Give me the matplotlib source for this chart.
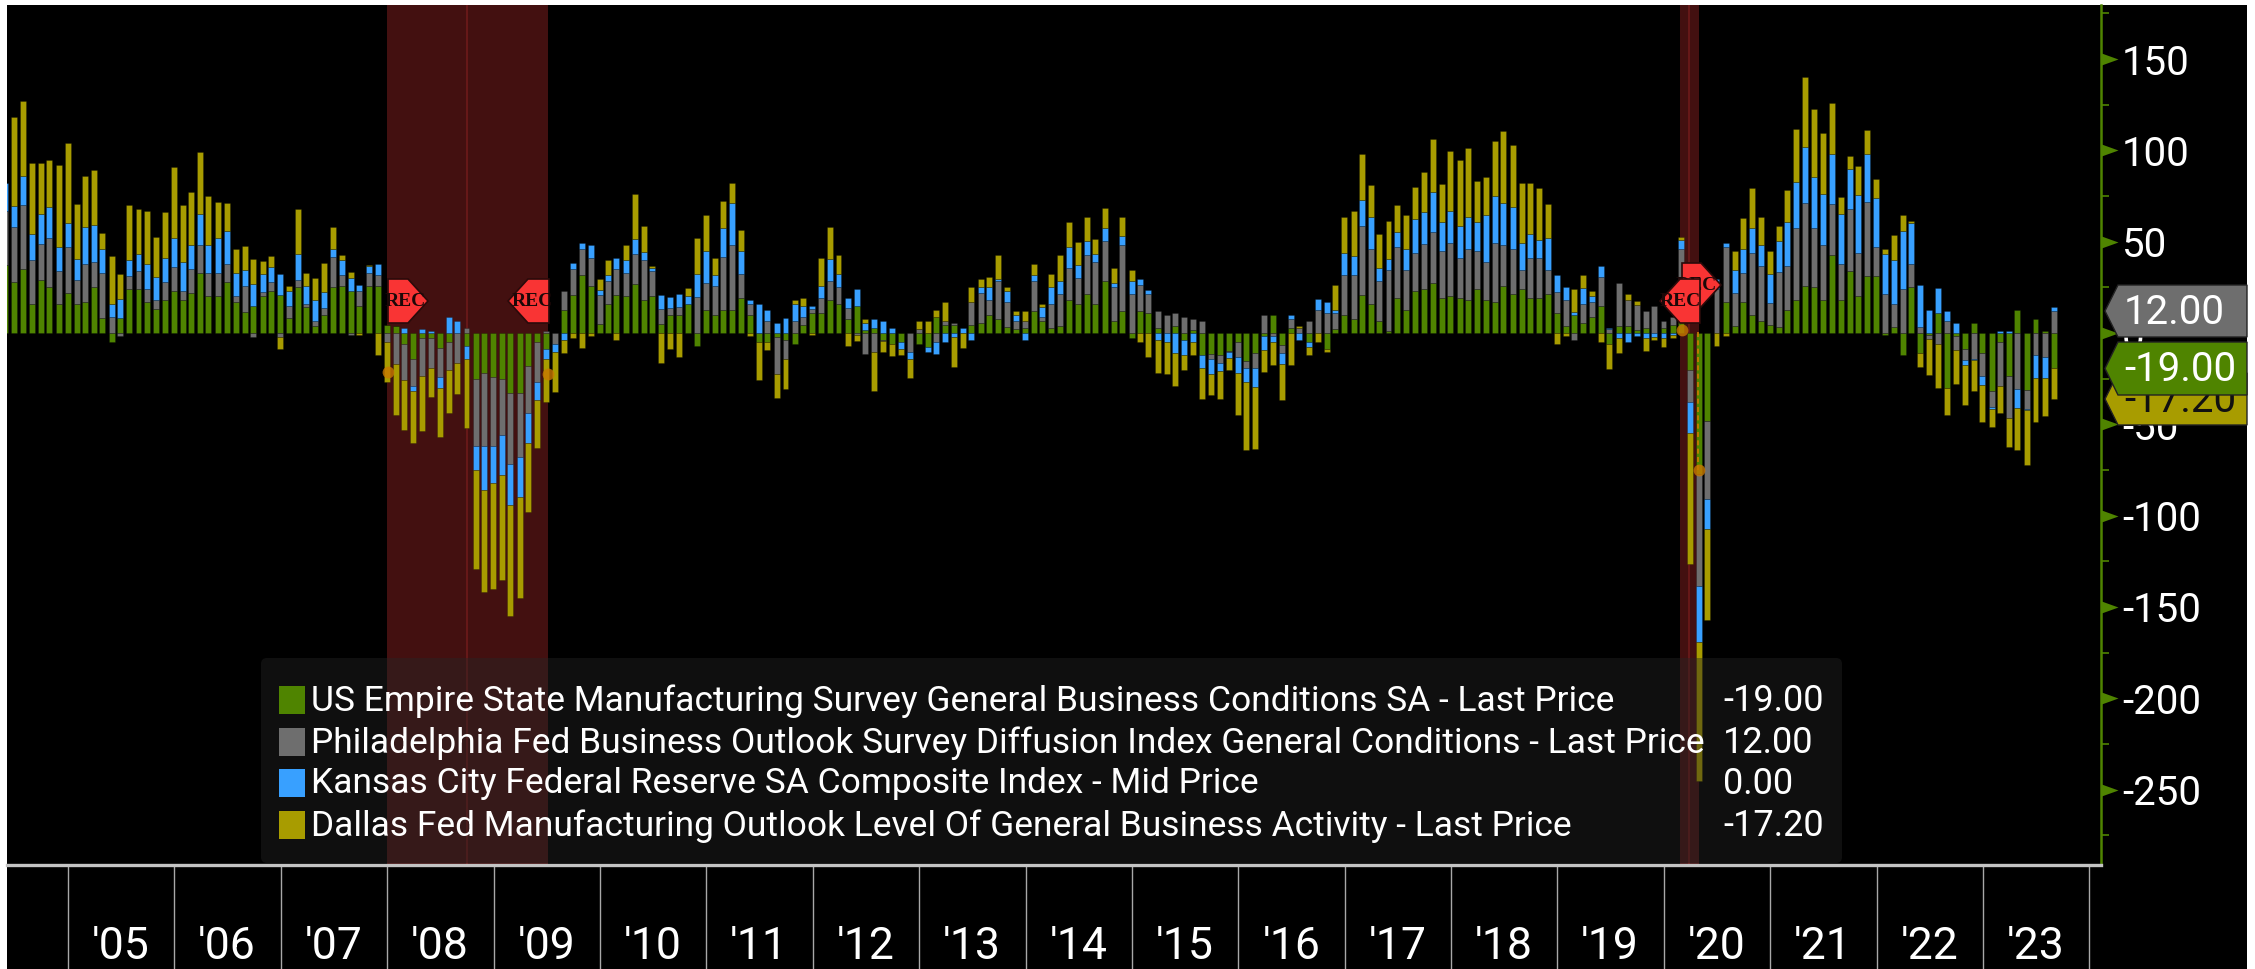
import numpy as np
import pandas as pd
import matplotlib
matplotlib.use('Agg')
import matplotlib.pyplot as plt
import matplotlib.dates as mdates
from matplotlib.patches import Polygon, Rectangle, FancyBboxPatch

W, H = 2255, 969
plt.rcParams['font.family'] = ['Roboto', 'DejaVu Sans']

# month ends, May 2004 .. Aug 2023
months = pd.date_range('2004-05-31', '2023-08-31', freq='BME')

empire = [37,28,35,16,29,25,16,22,
    16,17,25,8,-5,8,24,24,17,13,18,23,
    18,22,33,20,20,28,17,11.5,15,20,23,20.6,
    8,25,14,4,10,25,26,23,15,26,26,4.4,
    4,-6,-14,-2.5,-3,-8,-5,0,-7,-25,-22,-24,
    -25,-33,-33,-18,-5,-9,0,12.4,21,32,26,5,
    16,21,20,27,18,20,5,10,10,15.7,-7,12.4,
    10,12.4,12.4,19.3,10,-5,-5,-2.4,-4,-6,4.4,11,
    11,18,16,7.7,14.6,1.8,3,-3.6,-5.8,-5,0,-6,
    -7.8,9,4.4,4.4,0,4.4,5.3,10,7.7,3.3,2,3,
    12,6.4,3,4,18,16,21.5,16,28.6,6.4,12.2,-2.5,
    12.2,11,3,0,4,-4,1.5,-12,-11.5,-12,-10,-5,
    -15.5,-11,-1.5,10,-6.5,3,0,-5,0,-8.6,2,10,
    7.7,20.6,16,6.6,1,19.3,12.4,22.8,24,27.5,19.3,20.4,
    19.3,18.2,24,18,17,26,21.5,24,19.3,19.3,21.5,11,
    4,10,5.3,9,14.8,-6,4,4,1.5,3,0,3,
    4.4,12,-20,-77,-48,-0.2,17,3.7,17,10,6.7,4.5,
    3.5,12.4,18,26,25,18,42.5,18,34,20,31,31,
    -1.3,3.3,-11.9,25,-10.8,-1.2,11,-30,-1.5,-9,5.5,-11,
    -31.7,-5,-23.5,12.4,-31,7.7,1.2,-19]

philly = [30,30,35,24,20,27,18,25,
    13,21,14,25,9,-1.5,7,10,7,5,10,13,
    5,13,15,13,13,10,3,14,-2,2.5,5,-2,
    7,4,2,2.5,3.5,16.5,6,-1,8,7,6,-5,
    -17,-20,-15,-21,-16,-16,-15,-16.5,3,-37,-40,-38,
    -31,-39,-35,-26,-22,1,-6,10.4,14,14,15,16,
    12.5,14,13,16.5,22,14,8,3.5,4.5,0,19.5,15,
    16,29,36,12.8,5.7,0,6.6,-20,-10.4,6.7,4.5,2.4,
    8,10.6,9.3,5.8,-1,-11.5,-10.6,-1,0,0,-10.6,2,
    0,-4.7,2.4,1,0,12.8,16.4,8,21,13.9,4.4,3.5,
    16.4,2.5,12.8,17.5,17.5,14,21,23,22,18.6,36,21.5,
    14,10.4,9.3,10,7,9,6,6.4,-3,-4.5,-0.5,-8,
    -3.5,-8,10,-1.5,-4.4,4.7,3,6.7,12.6,11,9,22,
    24,38,30,22,33.7,27.7,22,20.8,24.5,27.7,25.5,29,
    22,27.7,21,21,32.5,22,24.5,10.4,22,22,12.8,11.7,
    14,-4,10.6,8,16,2,23.5,14,14,9.3,15,3.6,
    4.5,34,-17.7,-61.6,-43,24,30,18,16,33.6,30,11.7,
    30,24.5,39.4,45,32.6,30,28,19.7,33.7,24,40.5,16,
    21.5,12.6,24,13,3.3,-2,-6,6.7,-8,-6,-14,-12.4,
    -9,-24,-23,-30.5,-10.4,-12,-13.4,12]

kansas = [15,11.5,16,14,16,17,13,13,
    11.5,20,20,13,7,10.5,9,9,14,12.5,13,16,
    16,13,17,15,19,18,13,9,11.7,10,8,11.7,
    8,14,10,11.5,9,4.5,8,7,3.5,3.5,6,0,
    0,3,-2.5,2,1,-6,9,6.5,-7,-13,-24,-20,
    -22,-22,-22,-16,-9.5,-5,-4.5,-4,3.5,3.5,7,2.4,
    3.5,6,7,8,4.5,1.5,8,6,7,4.7,12.8,17.5,
    6,16,23,12.8,2.4,16,5.8,5.5,8,9.3,6,1.5,
    7,11.7,7,5.8,9.3,3.6,4.7,6.7,3,-3.6,-3.5,0,
    -2.7,-7,-4.7,-2.4,3,-3.6,3.5,7,1,5.8,3.5,-3.8,
    3.5,5.5,9.3,7,11.5,7,8,4.5,7,2.4,4.7,7,
    3.5,2.4,-4,-5,-11,-8,-5,-7,-8,-4.5,-3,-9,
    -8,-10.4,-8,-3.6,-6,2.4,-4,-2.4,5.8,5.8,1.5,11.7,
    10.6,14,17.5,7,5.7,8.2,11.7,18.8,17.5,22,16,17.5,
    17.5,17.5,16,25.5,25.5,23,23,15,13,9.5,17.5,9,
    7,1.3,9,3.5,5.8,1,-3,-5,-1.6,-3,-2,-3,
    -1,5,-17.3,-30.6,-16.3,5.5,2.2,12.8,12.8,14,11.7,16,
    17,24,25.5,31,28,28,27.7,27.7,22,31.6,26.6,26.8,
    22,24,31.6,22,23,12.4,13.8,5.6,5.5,-2.4,-1,-5,
    -1,1,1,-10.6,-1,-12.8,-11.5,2]

dallas = [0,49,41,39,28,26,45,44,
    30,28,30,9,26,14,30,25,29,22,25,39,
    31,29,34,27,19.5,15,13,13,14,7,6,-7,
    2.5,25,7,12,16,12,2.5,3.5,-1,1,-12,-22,
    -28,-27,-29,-30,-16,-27,-24,-17,-38,-54,-56,-58,
    -57,-61,-55,-38,-26.5,-24,-22,-7,-2.5,-8,-1.5,6,
    8,-4,8,24.5,14,1,-16.5,-8.5,-13,4.5,19.7,19.7,
    9,15,10.6,11.7,-1.5,-20.6,-4.5,-13,-16,2.2,4.5,-1,
    15,17.5,10.4,-7,-3.6,2.4,-21,-5.8,-7,-3.6,-10.4,4.5,
    6.7,3.5,10.4,-16,-8,8,4.5,5.8,12.8,2.4,2.3,5.8,
    5.8,1.5,7,14,14,12.8,13,8,10.6,8,10.6,5.8,
    -5,-13,-18,-17.5,-18,-8,-7,-17,-11.5,-15,-7,-23,
    -37,-34,-12,-12.6,-20,-17.7,1,-4.5,-5,-2,13.7,20,
    24.5,25.5,17.3,18.4,21,15,18.6,17.3,22,29,21,32.5,
    36,38,22,21,30,39.6,33.8,32.5,27.7,28.8,18.6,-6,
    -1.6,12.8,7,2.4,-5,-13.5,-8,3.6,2,-7,-2,-4.5,
    -2,1.5,-71.6,-76,-50,-7,-1.5,10.6,17,22,15,12.8,
    8,17.5,29,38,37,33.6,28,9.3,7,16,12.8,10.4,
    2.4,14,9,1.3,-8,-19.7,-24,-15,-18.6,-22,-17,-20.6,
    -9.7,-15,-16,-23,-30,-24,-20.8,-17.2]

series_names = ['US Empire State Manufacturing Survey General Business Conditions SA - Last Price',
                'Philadelphia Fed Business Outlook Survey Diffusion Index General Conditions - Last Price',
                'Kansas City Federal Reserve SA Composite Index - Mid Price',
                'Dallas Fed Manufacturing Outlook Level Of General Business Activity - Last Price']
last_values = ['-19.00', '12.00', '0.00', '-17.20']
colors = ['#4f8400', '#6e6e6e', '#38a0ff', '#a89c00']

year_ticks = pd.date_range('2005-01-01', '2024-01-01', freq='YS')
year_mids = pd.date_range('2005-07-01', '2023-07-01', freq='12MS')
year_labels = ["'%02d" % (d.year % 100) for d in year_mids]
y_major = [150, 100, 50, 0, -50, -100, -150, -200, -250]
y_minor = [175, 125, 75, 25, -25, -75, -125, -175, -225, -275]
recessions = [('2007-12-31', '2009-07-06', '2008-09-30'), ('2020-02-24', '2020-05-02', '2020-03-28')]

fig = plt.figure(figsize=(W / 100, H / 100), dpi=100, facecolor='white')

# black panel inside the white border
bg = fig.add_axes([0, 0, 1, 1], zorder=-1)
bg.set_xlim(0, W)
bg.set_ylim(H, 0)
bg.axis('off')
bg.add_patch(Rectangle((7, 5), 2240, 964, color='black', lw=0))

# main plot, pixel box 7..2101 x 5..865
ax_l, ax_r, ax_t, ax_b = 7, 2101, 5, 865
ax = fig.add_axes([ax_l / W, 1 - ax_b / H, (ax_r - ax_l) / W, (ax_b - ax_t) / H])
ax.set_facecolor('black')

px_per_day = 106.4 / 365.25
d0 = mdates.date2num(pd.Timestamp('2005-01-01'))
ax.set_xlim(d0 + (ax_l - 68) / px_per_day, d0 + (ax_r - 68) / px_per_day)
ax.set_ylim((333 - ax_b) / 1.826, (333 - ax_t) / 1.826)

for start, end, line in recessions:
    ax.axvspan(pd.Timestamp(start), pd.Timestamp(end), color='#431010', lw=0, zorder=1)
    ax.axvline(pd.Timestamp(line), color='#6e1a1a', lw=1.2, zorder=1.2)

# stacked bars, positives up and negatives down
x = mdates.date2num(months)
pos = np.zeros(len(months))
neg = np.zeros(len(months))
for vals, col in zip([empire, philly, kansas, dallas], colors):
    vals = np.array(vals, dtype=float)
    bottom = np.where(vals >= 0, pos, neg)
    ax.bar(x, vals, bottom=bottom, width=20.5, color=col, edgecolor=(0, 0, 0, 0.25), lw=0.6, zorder=2)
    pos += np.clip(vals, 0, None)
    neg += np.clip(vals, None, 0)

for s in ['left', 'top']:
    ax.spines[s].set_visible(False)
ax.spines['right'].set_color('#4f8400')
ax.spines['right'].set_linewidth(1.8)
ax.spines['bottom'].set_color('#c4c4c4')
ax.spines['bottom'].set_linewidth(2.4)

ax.set_xticks(mdates.date2num(year_ticks))
ax.set_xticklabels([])
ax.set_xticks(mdates.date2num(year_mids), minor=True)
ax.set_xticklabels(year_labels, minor=True)
ax.tick_params(axis='x', which='major', length=76, width=1, color='#a8a8a8')
ax.tick_params(axis='x', which='minor', length=0, pad=44, labelsize=32, labelcolor='white')

ax.yaxis.tick_right()
ax.set_yticks(y_major)
ax.set_yticklabels([str(v) for v in y_major])
ax.set_yticks(y_minor, minor=True)
ax.tick_params(axis='y', which='major', length=0, pad=15, labelsize=29, labelcolor='white')
ax.tick_params(axis='y', which='minor', length=6, width=1.2, color='#4f8400')
for label in ax.get_yticklabels():
    label.set_horizontalalignment('left')
tri = [(0, -0.36), (1, 0), (0, 0.36)]
ax.plot([1] * len(y_major), y_major, ls='none', marker=tri, ms=24.5, color='#4f8400', mew=0,
        transform=ax.get_yaxis_transform(), clip_on=False, zorder=5)

# overlay in pixel coordinates: legend, value tags, recession flags
ov = fig.add_axes([0, 0, 1, 1], zorder=5)
ov.set_xlim(0, W)
ov.set_ylim(H, 0)
ov.axis('off')
ov.patch.set_alpha(0)

ov.add_patch(FancyBboxPatch((265, 662), 1573, 197, boxstyle='round,pad=4,rounding_size=6',
                            fc=(37 / 255, 37 / 255, 37 / 255, 0.43), ec='none', zorder=1))
row_y = [700, 742, 783, 825]
for yy, name, val, col in zip(row_y, series_names, last_values, colors):
    ov.add_patch(Rectangle((279, yy - 14), 26, 28, fc=col, ec='none', zorder=2))
    ov.text(311, yy + 1, name, color='white', fontsize=25.5, va='center', ha='left', zorder=2)
    ov.text(1723, yy + 1, val, color='white', fontsize=26, va='center', ha='left', zorder=2)


def flag(left, right, top, bottom, point_left, word, tx, z):
    mid = (top + bottom) / 2
    if point_left:
        chamfer = left + 20
        verts = [(left, mid), (chamfer, top), (right, top), (right, bottom), (chamfer, bottom)]
    else:
        chamfer = right - 20
        verts = [(left, top), (chamfer, top), (right, mid), (chamfer, bottom), (left, bottom)]
    ov.add_patch(Polygon(verts, closed=True, fc='#f93434', ec='#2a0a0a', lw=1.2, zorder=z))
    ov.text(tx, mid, word, color='#1c0808', family='Liberation Serif', fontweight='bold', fontsize=14,
            ha='center', va='center', zorder=z + 0.1)


flag(388, 428, 279, 323, False, 'REC', 405, 3)
flag(508, 549, 279, 323, True, 'REC', 532, 3)
flag(1682, 1721, 263, 307, False, 'REC', 1696, 3)
flag(1660, 1700, 279, 323, True, 'REC', 1680, 4)

# dashed line and dots at recession turning points
ov.plot([1698, 1698], [332, 470], color='#d07a00', lw=1.2, ls=(0, (3, 2)), zorder=3)
ov.plot([388, 548, 1682, 1699], [372, 374, 330, 470], ls='none', marker='o', ms=8.5,
        color='#c97800', alpha=0.8, mew=0, zorder=3)


def tag(top, bottom, fc, txt, tc, z):
    mid = (top + bottom) / 2
    verts = [(2105, mid), (2118, top), (2247, top), (2247, bottom), (2118, bottom)]
    ov.add_patch(Polygon(verts, closed=True, fc=fc, ec='#222222', lw=1, zorder=z))
    ov.text(2124, mid + 1, txt, color=tc, fontsize=29, ha='left', va='center', zorder=z + 0.1)


tag(373, 425, '#a89c00', '-17.20', '#111111', 5)
tag(342, 395, '#4f8400', '-19.00', 'white', 6)
tag(285, 337, '#6e6e6e', '12.00', 'white', 7)

fig.savefig('out.png', dpi=100, facecolor='white')
